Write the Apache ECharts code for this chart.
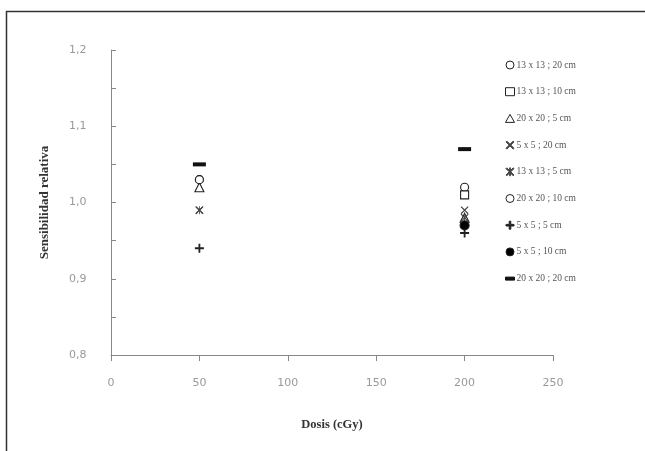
<!DOCTYPE html>
<html><head><meta charset="utf-8">
<script src="https://cdn.jsdelivr.net/npm/echarts@6/dist/echarts.min.js"></script>
<style>html,body{margin:0;padding:0;background:#fff}#c{width:645px;height:451px}</style>
</head><body><div id="c"></div>
<script>
var doses = [50, 200];
var seriesNames = ["13 x 13 ; 20 cm","13 x 13 ; 10 cm","20 x 20 ; 5 cm","5 x 5 ; 20 cm","13 x 13 ; 5 cm","20 x 20 ; 10 cm","5 x 5 ; 5 cm","5 x 5 ; 10 cm","20 x 20 ; 20 cm"];
var s1 = [1.03, 1.02];
var s2 = [null, 1.01];
var s3 = [1.02, 0.98];
var s4 = [0.99, 0.99];
var s5 = [0.99, 0.98];
var s6 = [1.03, 0.97];
var s7 = [0.94, 0.96];
var s8 = [null, 0.97];
var s9 = [1.05, 1.07];
var xTicks = [0, 50, 100, 150, 200, 250];
var yTicks = [0.8, 0.9, 1.0, 1.1, 1.2];

var PLUS = 'path://M4,0H6V4H10V6H6V10H4V6H0V4H4Z';
var XMARK = 'path://M1,0L5,4L9,0L10,1L6,5L10,9L9,10L5,6L1,10L0,9L4,5L0,1Z';
var AST = 'path://M1,0L4.5,3.5V0H5.5V3.5L9,0L10,1L6,5L10,9L9,10L5.5,6.5V10H4.5V6.5L1,10L0,9L4,5L0,1Z';
var DASH = 'path://M0,0H12V4H0Z';
var styles = [
  {symbol:'circle', size:8, fill:'#fff'},
  {symbol:'rect', size:8, fill:'#fff'},
  {symbol:'triangle', size:9, fill:'#fff'},
  {symbol:XMARK, size:8, fill:'#444', noBorder:true},
  {symbol:AST, size:8, fill:'#444', noBorder:true},
  {symbol:'circle', size:8, fill:'#fff'},
  {symbol:PLUS, size:9, fill:'#222', noBorder:true},
  {symbol:'circle', size:9, fill:'#000'},
  {symbol:'rect', size:[13,4], fill:'#111', noBorder:true}
];
var legendIcons = ['circle','rect','triangle',XMARK,AST,'circle',PLUS,'circle',DASH];
var vals = [s1,s2,s3,s4,s5,s6,s7,s8,s9];

var series = seriesNames.map(function(n,i){
  var st = styles[i];
  return {
    name:n, type:'scatter', symbol:st.symbol, symbolSize:st.size,
    itemStyle:{color:st.fill, borderColor:st.noBorder?st.fill:'#222', borderWidth:st.noBorder?0:1.1, opacity:1},
    data: doses.map(function(d,j){ return vals[i][j]==null?null:[d, vals[i][j]]; }).filter(function(p){return p;}),
    z: 2
  };
});

var chart = echarts.init(document.getElementById('c'), null, {renderer:'canvas'});
chart.setOption({
  animation:false,
  backgroundColor:'#fff',
  graphic:[{type:'rect', shape:{x:6.5,y:11.5,width:700,height:500}, style:{fill:null, stroke:'#333', lineWidth:1.5}, z:-1}],
  grid:{left:111, right:92, top:50, bottom:96},
  legend:{
    orient:'vertical', left:500, top:55, itemGap:16.7, itemWidth:9, itemHeight:8,
    data: seriesNames.map(function(n,i){ return {name:n, icon:legendIcons[i]}; }),
    itemStyle:{borderWidth:1},
    textStyle:{fontFamily:'Liberation Serif', fontSize:9.5, color:'#555', padding:[0,0,0,-3]}
  },
  xAxis:{
    type:'value', min:0, max:250, interval:50,
    name:'Dosis (cGy)', nameLocation:'middle', nameGap:63,
    nameTextStyle:{fontFamily:'Liberation Serif', fontWeight:'bold', fontSize:12.5, color:'#333'},
    axisLine:{lineStyle:{color:'#888', width:1}},
    axisTick:{show:true, inside:false, length:6, lineStyle:{color:'#888'}},
    axisLabel:{color:'#999', fontFamily:'DejaVu Sans', fontSize:11, margin:23},
    splitLine:{show:false}
  },
  yAxis:{
    type:'value', min:0.8, max:1.2, interval:0.1,
    name:'Sensibilidad relativa', nameLocation:'middle', nameGap:60,
    nameTextStyle:{fontFamily:'Liberation Serif', fontWeight:'bold', fontSize:13, color:'#333'},
    axisLine:{show:true, lineStyle:{color:'#888', width:1}},
    axisTick:{show:true, inside:true, length:5, lineStyle:{color:'#888'}},
    minorTick:{show:true, splitNumber:2, length:5, lineStyle:{color:'#888'}},
    axisLabel:{color:'#999', fontFamily:'DejaVu Sans', fontSize:11, margin:42, align:'left',
      formatter:function(v){ return v.toFixed(1).replace('.', ','); }},
    splitLine:{show:false}
  },
  series: series
});
</script></body></html>
